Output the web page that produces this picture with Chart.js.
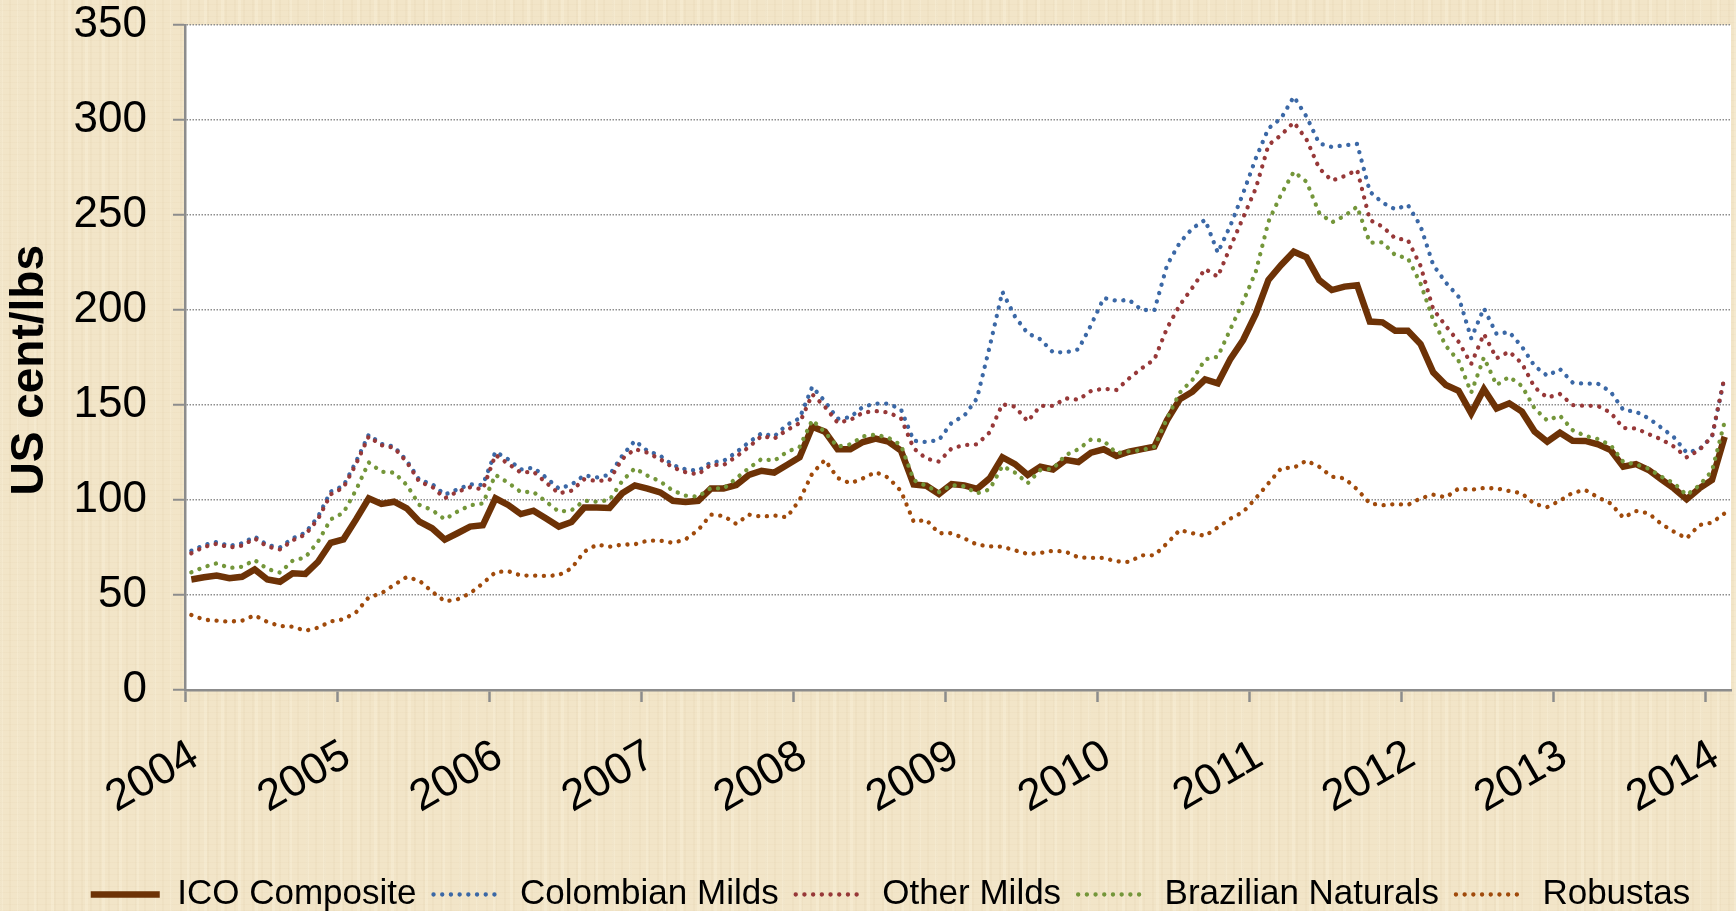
<!DOCTYPE html>
<html>
<head>
<meta charset="utf-8">
<title>ICO indicator prices</title>
<script src="https://cdn.jsdelivr.net/npm/chart.js@4/dist/chart.umd.min.js"></script>
<style>
    html, body { margin: 0; padding: 0; }
    body {
        width: 1736px;
        height: 911px;
        overflow: hidden;
        background-color: #f2e5c8;
        background-image:
            repeating-linear-gradient(90deg, rgba(196, 170, 125, 0.07) 0px, rgba(196, 170, 125, 0.07) 2px, rgba(255, 255, 255, 0) 2px, rgba(255, 255, 255, 0) 9px),
            repeating-linear-gradient(90deg, rgba(255, 250, 232, 0.22) 0px, rgba(255, 250, 232, 0.22) 3px, rgba(255, 255, 255, 0) 3px, rgba(255, 255, 255, 0) 17px),
            repeating-linear-gradient(0deg, rgba(196, 170, 125, 0.06) 0px, rgba(196, 170, 125, 0.06) 1px, rgba(255, 255, 255, 0) 1px, rgba(255, 255, 255, 0) 6px);
    }
    canvas { display: block; }
</style>
</head>
<body>
<canvas id="coffeeChart" width="1736" height="911"></canvas>
<script>
// monthly values Jan 2004 - Feb 2014, US cent/lbs
const years = ['2004', '2005', '2006', '2007', '2008', '2009', '2010', '2011', '2012', '2013', '2014'];

const icoComposite = [
    58.2, 59.3, 60.2, 58.8, 59.6, 63.5, 58.2, 57.0, 61.4, 61.1, 67.5, 77.5,
    79.3, 89.8, 100.9, 97.9, 99.1, 95.6, 88.6, 85.1, 79.1, 82.5, 86.0, 86.7,
    100.9, 97.4, 92.6, 94.4, 90.2, 86.0, 88.4, 96.0, 96.1, 95.8, 103.5, 107.7,
    106.0, 104.0, 99.6, 98.9, 99.6, 106.0, 106.1, 107.9, 113.2, 115.4, 114.4, 118.4,
    122.5, 138.6, 136.0, 126.7, 126.7, 130.5, 132.3, 130.7, 126.0, 108.2, 107.5, 103.2,
    108.4, 107.7, 105.8, 111.4, 122.5, 118.9, 113.2, 117.5, 116.1, 121.1, 120.0, 124.9,
    126.7, 123.2, 125.4, 126.8, 128.1, 142.1, 153.0, 157.0, 163.5, 161.4, 174.3, 184.2,
    197.9, 215.8, 223.7, 230.7, 227.7, 215.8, 210.5, 212.3, 213.0, 193.9, 193.5, 189.1,
    189.1, 182.1, 167.2, 160.5, 157.5, 145.6, 158.3, 148.2, 150.9, 146.5, 136.0, 130.7,
    135.4, 131.2, 131.1, 129.3, 126.3, 117.5, 118.9, 115.8, 110.9, 106.1, 100.4, 106.1,
    110.5, 133.3
];

const colombianMilds = [
    73.3, 76.3, 77.9, 75.8, 77.2, 80.7, 76.3, 75.1, 79.8, 82.8, 91.2, 104.4,
    107.4, 120.2, 134.4, 129.5, 128.1, 120.7, 110.5, 108.4, 102.8, 105.6, 108.2, 107.9,
    125.4, 121.4, 116.1, 117.0, 111.8, 106.0, 108.1, 113.0, 111.9, 113.2, 123.3, 131.2,
    125.8, 123.3, 118.4, 116.1, 115.4, 119.8, 120.5, 125.1, 130.4, 135.1, 133.5, 139.6,
    143.0, 159.6, 151.9, 142.8, 143.5, 149.1, 150.7, 150.7, 147.7, 131.2, 130.5, 131.6,
    140.7, 144.4, 153.5, 180.7, 209.6, 196.5, 187.7, 184.6, 177.7, 177.7, 179.3, 192.1,
    206.3, 204.9, 205.3, 200.0, 200.0, 223.7, 235.4, 243.0, 247.4, 230.2, 244.5, 261.4,
    279.8, 295.6, 300.9, 312.3, 301.8, 287.7, 285.8, 286.7, 287.4, 262.3, 256.5, 253.0,
    255.3, 244.2, 223.7, 214.4, 207.0, 185.1, 200.9, 187.4, 188.4, 180.7, 170.5, 165.4,
    168.9, 161.8, 161.2, 161.2, 157.0, 147.4, 146.5, 143.0, 138.1, 133.0, 124.9, 126.7,
    133.3, 165.0
];

const otherMilds = [
    72.0, 75.3, 77.0, 75.0, 76.0, 79.8, 75.5, 74.0, 78.8, 81.8, 90.0, 103.0,
    106.5, 119.0, 133.5, 128.8, 127.5, 120.0, 109.5, 107.0, 100.9, 104.4, 106.7, 105.6,
    123.7, 119.1, 114.4, 114.9, 109.1, 103.5, 104.9, 110.9, 110.0, 110.5, 121.6, 126.8,
    124.9, 121.4, 117.2, 114.6, 113.5, 118.6, 118.4, 122.8, 127.9, 133.7, 132.3, 136.8,
    140.5, 155.6, 149.1, 140.7, 142.1, 146.0, 146.8, 146.1, 143.0, 127.2, 121.8, 120.2,
    127.2, 128.9, 129.3, 135.6, 150.4, 149.1, 141.4, 149.5, 149.5, 153.5, 152.8, 157.4,
    158.6, 157.9, 164.0, 169.3, 174.0, 190.5, 202.6, 211.8, 221.6, 217.5, 233.3, 248.6,
    264.0, 286.8, 292.1, 298.8, 289.8, 274.6, 268.1, 270.5, 273.7, 247.4, 243.9, 237.7,
    236.8, 223.3, 200.4, 191.6, 183.3, 171.6, 187.4, 174.6, 178.1, 171.9, 159.3, 153.9,
    155.8, 150.0, 149.6, 149.5, 146.0, 137.9, 137.7, 134.7, 131.9, 128.1, 122.5, 126.3,
    133.3, 165.3
];

const brazilianNaturals = [
    61.9, 64.7, 66.7, 64.2, 64.9, 68.4, 63.7, 61.8, 68.1, 69.8, 78.1, 89.8,
    93.3, 105.3, 119.8, 114.9, 114.4, 107.9, 97.4, 94.7, 89.8, 93.9, 97.2, 98.2,
    113.2, 109.1, 104.2, 104.2, 99.1, 93.9, 94.6, 99.6, 99.1, 100.0, 110.0, 116.7,
    112.8, 109.8, 104.9, 102.3, 101.8, 106.3, 106.0, 111.4, 116.8, 121.6, 120.7, 125.3,
    127.9, 142.1, 135.6, 128.1, 129.3, 133.5, 134.4, 132.8, 128.9, 110.5, 107.4, 104.2,
    107.9, 107.2, 103.5, 105.6, 117.9, 114.4, 108.8, 115.8, 116.5, 123.7, 126.7, 131.9,
    131.2, 124.6, 125.6, 126.3, 128.1, 143.0, 156.5, 163.2, 174.0, 175.4, 190.0, 204.4,
    220.2, 246.5, 260.9, 272.8, 267.5, 251.2, 246.1, 249.5, 254.4, 235.4, 235.6, 228.9,
    227.2, 214.0, 194.7, 181.1, 173.3, 156.5, 175.0, 160.5, 164.9, 160.0, 148.2, 141.8,
    144.4, 136.8, 133.7, 132.1, 128.9, 120.0, 118.8, 116.5, 112.3, 108.8, 102.6, 107.7,
    115.3, 141.2
];

const robustas = [
    39.5, 37.0, 36.5, 36.0, 36.5, 39.3, 35.8, 33.7, 33.3, 31.2, 32.8, 36.1,
    37.2, 40.9, 48.8, 50.9, 55.3, 59.5, 57.5, 51.8, 46.7, 47.7, 50.9, 56.1,
    62.0, 62.6, 60.2, 60.2, 60.0, 60.5, 64.0, 72.8, 76.5, 75.4, 76.5, 76.7,
    78.6, 78.6, 77.4, 79.3, 84.2, 92.3, 91.6, 87.4, 92.3, 91.2, 91.9, 90.9,
    100.0, 114.0, 121.1, 111.6, 108.8, 111.4, 114.7, 111.8, 104.7, 88.6, 89.5, 82.5,
    82.5, 79.8, 76.5, 75.6, 75.4, 73.5, 71.6, 72.1, 73.3, 72.8, 69.8, 69.5,
    69.5, 67.7, 67.4, 70.9, 70.9, 77.2, 84.2, 82.5, 81.1, 85.6, 90.2, 93.7,
    100.9, 108.8, 116.7, 117.0, 120.7, 117.5, 112.3, 111.4, 105.6, 98.2, 97.2, 97.9,
    97.4, 100.9, 102.8, 101.4, 106.0, 105.4, 106.3, 106.1, 104.7, 103.5, 97.9, 96.3,
    99.6, 103.8, 105.3, 101.4, 98.2, 90.7, 94.2, 93.0, 87.4, 83.3, 79.8, 86.8,
    88.1, 93.0
];

const fontFamily = "'Liberation Sans', Arial, sans-serif";
const axisGray = '#8c8c8c';

// month i sits in the middle of its month on a linear x axis (0 = Jan 2004)
function toPoints(values) {
    return values.map((v, i) => ({ x: i + 0.5, y: v }));
}

function dottedSeries(label, values, color, order) {
    return {
        label: label,
        data: toPoints(values),
        borderColor: color,
        backgroundColor: color,
        borderWidth: 4.3,
        borderDash: [0.1, 8.6],
        borderCapStyle: 'round',
        pointRadius: 0,
        tension: 0,
        order: order
    };
}

// white plot area on the parchment background
const plotBackground = {
    id: 'plotBackground',
    beforeDraw: (chart) => {
        const { ctx, chartArea } = chart;
        ctx.save();
        ctx.fillStyle = '#FFFFFF';
        ctx.fillRect(chartArea.left, chartArea.top, chartArea.right - chartArea.left, chartArea.bottom - chartArea.top);
        ctx.restore();
    }
};

// the legend row sits a bit right of the canvas centre
const legendShift = {
    id: 'legendShift',
    afterLayout: (chart) => {
        const legend = chart.legend;
        legend.left += 25;
        legend.right += 25;
        legend.top += 3;
        legend.bottom += 3;
    }
};

Chart.defaults.font.family = fontFamily;
Chart.defaults.color = '#000000';

const ctx = document.getElementById('coffeeChart').getContext('2d');

const myChart = new Chart(ctx, {
    type: 'line',
    data: {
        datasets: [
            {
                label: 'ICO Composite',
                data: toPoints(icoComposite),
                borderColor: '#6d3206',
                backgroundColor: '#6d3206',
                borderWidth: 6.5,
                borderCapStyle: 'butt',
                borderJoinStyle: 'miter',
                pointRadius: 0,
                tension: 0,
                order: 4
            },
            dottedSeries('Colombian Milds', colombianMilds, '#3b68a6', 3),
            dottedSeries('Other Milds', otherMilds, '#973838', 2),
            dottedSeries('Brazilian Naturals', brazilianNaturals, '#74963a', 1),
            dottedSeries('Robustas', robustas, '#a04a0b', 0)
        ]
    },
    plugins: [plotBackground, legendShift],
    options: {
        responsive: false,
        animation: false,
        layout: {
            padding: { left: 0, right: 5, top: 25, bottom: -8 }
        },
        scales: {
            x: {
                type: 'linear',
                min: 0,
                max: 122,
                afterBuildTicks: (scale) => {
                    scale.ticks = years.map((y, i) => ({ value: i * 12 }));
                },
                afterFit: (scale) => {
                    scale.height = 167;
                    scale.paddingLeft = 0;
                    scale.paddingRight = 0;
                },
                ticks: {
                    minRotation: 30,
                    maxRotation: 30,
                    autoSkip: false,
                    padding: 28,
                    labelOffset: 10,
                    font: { size: 44 },
                    color: '#000000',
                    callback: (value, index) => years[index]
                },
                grid: {
                    drawOnChartArea: false,
                    tickLength: 12,
                    tickColor: axisGray,
                    tickWidth: 2.5
                },
                border: {
                    color: axisGray,
                    width: 2.5
                }
            },
            y: {
                min: 0,
                max: 350,
                afterFit: (scale) => {
                    scale.width = 185;
                    scale.paddingTop = 0;
                    scale.paddingBottom = 0;
                },
                ticks: {
                    stepSize: 50,
                    padding: 26,
                    font: { size: 44 },
                    color: '#000000'
                },
                grid: {
                    color: '#8e8e8e',
                    lineWidth: 1.5,
                    tickLength: 12,
                    tickColor: axisGray,
                    tickWidth: 2
                },
                border: {
                    color: axisGray,
                    width: 2.5,
                    dash: [1.5, 1.5]
                },
                title: {
                    display: true,
                    // two trailing spaces push the centred title a little lower, as in the original
                    text: 'US cent/lbs  ',
                    color: '#000000',
                    font: { size: 46, weight: 'bold' },
                    padding: { top: 3, bottom: 0 }
                }
            }
        },
        plugins: {
            legend: {
                position: 'bottom',
                labels: {
                    usePointStyle: true,
                    pointStyle: 'line',
                    pointStyleWidth: 69,
                    padding: 17,
                    color: '#000000',
                    font: { size: 35 },
                    // keep the dotted pattern of each series in the legend sample
                    generateLabels: (chart) => {
                        const items = Chart.defaults.plugins.legend.labels.generateLabels(chart);
                        items.forEach((item) => {
                            const ds = chart.data.datasets[item.datasetIndex];
                            item.lineDash = ds.borderDash || [];
                            item.lineCap = ds.borderCapStyle;
                            item.lineWidth = ds.borderWidth;
                            item.strokeStyle = ds.borderColor;
                        });
                        return items;
                    },
                    sort: (a, b) => a.datasetIndex - b.datasetIndex
                }
            },
            tooltip: {
                enabled: false
            }
        }
    }
});
</script>
</body>
</html>
